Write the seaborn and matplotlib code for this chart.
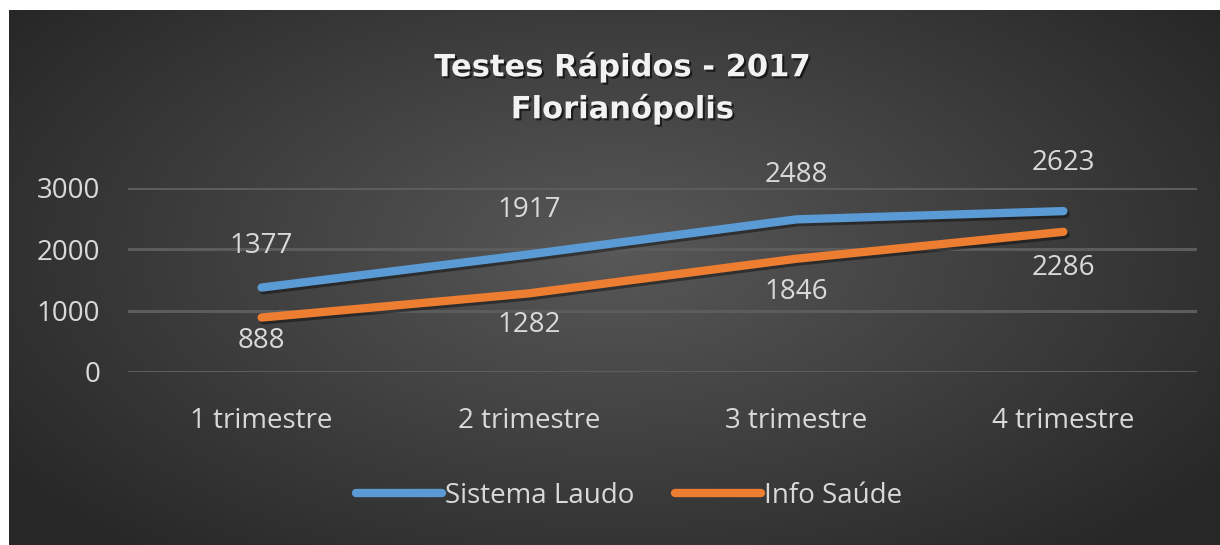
import numpy as np
import pandas as pd
import seaborn as sns
import matplotlib.pyplot as plt
import matplotlib.patheffects as pe
from matplotlib.lines import Line2D

# Data
trimestres = ['1 trimestre', '2 trimestre', '3 trimestre', '4 trimestre']
sistema_laudo = [1377, 1917, 2488, 2623]
info_saude = [888, 1282, 1846, 2286]
series_names = ['Sistema Laudo', 'Info Saúde']
colors = ['#5B9BD5', '#ED7D31']

df = pd.DataFrame({
    'Trimestre': trimestres * 2,
    'Valor': sistema_laudo + info_saude,
    'Serie': [series_names[0]] * 4 + [series_names[1]] * 4,
})

sns.set_style('white')
plt.rcParams['font.family'] = ['Open Sans', 'DejaVu Sans']
fs = 20

W, H = 1220, 545
fig = plt.figure(figsize=(W / 100, H / 100), dpi=100, facecolor='white')

# background panel with radial gradient (Excel dark style)
bg = fig.add_axes([9 / W, 0, (W - 9) / W, (H - 10) / H])
nx, ny = 600, 270
xx, yy = np.meshgrid(np.linspace(0, 1, nx), np.linspace(0, 1, ny))
d = np.sqrt(((xx - 0.5) / 0.62) ** 2 + ((yy - 0.45) / 0.75) ** 2)
d = np.clip(d, 0, 1)
inner, outer = 0x58 / 255, 0x27 / 255
g = inner + (outer - inner) * d
bg.imshow(np.dstack([g, g, g]), aspect='auto', extent=[0, 1, 0, 1], origin='upper')
bg.set_axis_off()

# main plot axes
left, right = 128, 1197
y0_px, y3000_px = 372, 188
ax = fig.add_axes([left / W, (H - y0_px) / H, (right - left) / W, (y0_px - y3000_px) / H])
ax.patch.set_alpha(0)

sns.lineplot(data=df, x='Trimestre', y='Valor', hue='Serie', palette=colors,
             linewidth=6, ax=ax, legend=False, sort=False,
             solid_capstyle='round',
             path_effects=[pe.SimpleLineShadow(offset=(1.5, -2), alpha=0.4), pe.Normal()])

ax.set_xlim(-0.5, 3.5)
ax.set_ylim(0, 3000)
ax.set_yticks([0, 1000, 2000, 3000])
ax.grid(axis='y', color='#5c5c5c', linewidth=2.2)
ax.set_axisbelow(True)
for s in ax.spines.values():
    s.set_visible(False)
ax.set_xlabel('')
ax.set_ylabel('')
ax.tick_params(axis='y', length=0, pad=20, labelsize=fs, labelcolor='#d9d9d9')
ax.tick_params(axis='x', length=0, pad=25, labelsize=fs, labelcolor='#d9d9d9')

# data labels
label_color = '#d9d9d9'
up_offsets = [30, 32, 32, 35]
down_offsets = [17, 23, 24, 26]
for i, v in enumerate(sistema_laudo):
    ax.annotate(str(v), (i, v), xytext=(0, up_offsets[i]), textcoords='offset points',
                ha='center', va='center', fontsize=fs, color=label_color, annotation_clip=False)
for i, v in enumerate(info_saude):
    ax.annotate(str(v), (i, v), xytext=(0, -down_offsets[i]), textcoords='offset points',
                ha='center', va='center', fontsize=fs, color=label_color, annotation_clip=False)

# title
title_fx = [pe.withSimplePatchShadow(offset=(1.5, -1.5), shadow_rgbFace='black', alpha=0.6)]
fig.text(622 / W, 1 - 67 / H, 'Testes Rápidos - 2017', ha='center', va='center',
         fontsize=22, fontweight='bold', color='#f2f2f2', family=['DejaVu Sans'],
         path_effects=title_fx)
fig.text(622 / W, 1 - 109 / H, 'Florianópolis', ha='center', va='center',
         fontsize=22, fontweight='bold', color='#f2f2f2', family=['DejaVu Sans'],
         path_effects=title_fx)

# legend
handles = [Line2D([], [], color=c, linewidth=6, solid_capstyle='round') for c in colors]
leg = fig.legend(handles, series_names, loc='center', bbox_to_anchor=(629 / W, 1 - 496 / H),
                 ncol=2, frameon=False, fontsize=fs, handlelength=3.1, handletextpad=0.1,
                 columnspacing=1.45, labelcolor='#d9d9d9')

fig.savefig('out.png', dpi=100, facecolor='white')
